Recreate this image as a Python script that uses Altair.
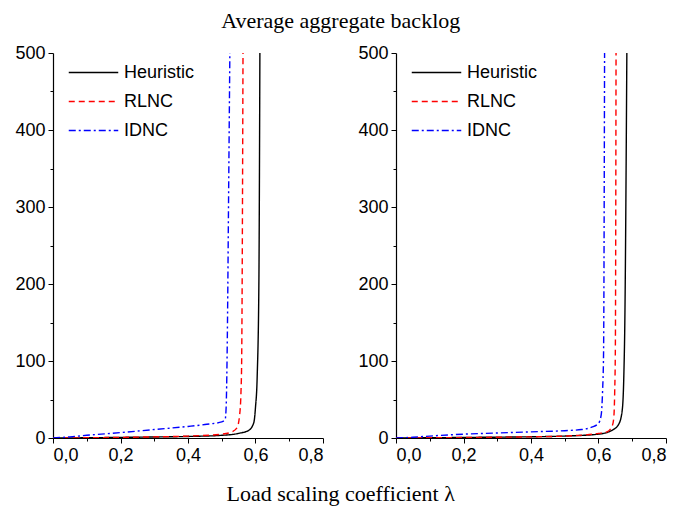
import altair as alt
import pandas as pd

series = ["Heuristic", "RLNC", "IDNC"]
colors = ["#000000", "#ff0000", "#0000ff"]
dashes = [[1, 0], [6, 4], [7, 3, 2, 3]]

x_major = [0, 0.2, 0.4, 0.6, 0.8]
x_minor = [0.1, 0.3, 0.5, 0.7]
y_major = [0, 100, 200, 300, 400, 500]
y_minor = [50, 150, 250, 350, 450]

# Left panel
l_heur_x = [0.0, 0.1, 0.2, 0.3, 0.4, 0.5, 0.55, 0.58, 0.595, 0.600, 0.605, 0.610, 0.613]
l_heur_y = [0.0, 0.3, 0.8, 1.3, 2.0, 3.5, 6.0, 10.0, 20.0, 40.0, 80.0, 200.0, 500.0]
l_rlnc_x = [0.0, 0.1, 0.2, 0.3, 0.4, 0.5, 0.53, 0.545, 0.553, 0.557, 0.559, 0.563]
l_rlnc_y = [0.0, 0.3, 0.8, 1.5, 2.5, 5.0, 8.0, 13.0, 30.0, 60.0, 100.0, 500.0]
l_idnc_x = [0.0, 0.05, 0.1, 0.2, 0.3, 0.4, 0.45, 0.5, 0.51, 0.513, 0.515, 0.517, 0.52, 0.524]
l_idnc_y = [0.0, 1.5, 3.5, 7.0, 11.0, 15.0, 17.5, 21.0, 24.0, 40.0, 80.0, 150.0, 300.0, 500.0]

# Right panel
r_heur_x = [0.0, 0.1, 0.2, 0.3, 0.4, 0.5, 0.6, 0.64, 0.66, 0.67, 0.675, 0.678, 0.684]
r_heur_y = [0.0, 0.3, 0.7, 1.1, 1.6, 2.5, 5.0, 10.0, 18.0, 35.0, 80.0, 150.0, 500.0]
r_rlnc_x = [0.0, 0.1, 0.2, 0.3, 0.4, 0.5, 0.56, 0.6, 0.625, 0.64, 0.645, 0.648, 0.65, 0.652]
r_rlnc_y = [0.0, 0.3, 0.6, 1.0, 1.5, 2.5, 4.0, 6.0, 8.0, 15.0, 25.0, 60.0, 120.0, 500.0]
r_idnc_x = [0.0, 0.05, 0.1, 0.2, 0.3, 0.4, 0.5, 0.55, 0.58, 0.6, 0.608, 0.612, 0.615, 0.618]
r_idnc_y = [0.0, 1.0, 2.5, 5.0, 6.5, 8.0, 9.5, 11.0, 14.0, 19.0, 30.0, 60.0, 110.0, 500.0]


def frame(sets):
    rows = []
    for name, xs, ys in sets:
        for i, (x, y) in enumerate(zip(xs, ys)):
            rows.append({"series": name, "x": x, "y": y, "i": i})
    return pd.DataFrame(rows)


left_df = frame([("Heuristic", l_heur_x, l_heur_y), ("RLNC", l_rlnc_x, l_rlnc_y), ("IDNC", l_idnc_x, l_idnc_y)])
right_df = frame([("Heuristic", r_heur_x, r_heur_y), ("RLNC", r_rlnc_x, r_rlnc_y), ("IDNC", r_idnc_x, r_idnc_y)])

label_expr = "replace(format(datum.value, '.1f'), '.', ',')"
xs = alt.Scale(domain=[0, 0.8], nice=False)
ys = alt.Scale(domain=[0, 500], nice=False)


def panel(df):
    lines = alt.Chart(df).mark_line(strokeWidth=1.4, clip=True, interpolate="monotone").encode(
        x=alt.X("x:Q", scale=xs,
                axis=alt.Axis(title=None, values=x_major, labelExpr=label_expr, orient="bottom")),
        y=alt.Y("y:Q", scale=ys,
                axis=alt.Axis(title=None, values=y_major, orient="left")),
        color=alt.Color("series:N", scale=alt.Scale(domain=series, range=colors),
                        legend=alt.Legend(title=None, orient="none", legendX=15, legendY=5,
                                          symbolType="stroke", symbolSize=2450,
                                          symbolStrokeWidth=1.4, clipHeight=29,
                                          labelFontSize=18, labelFont="Liberation Sans",
                                          labelColor="black",
                                          labelOffset=5, rowPadding=0)),
        strokeDash=alt.StrokeDash("series:N", scale=alt.Scale(domain=series, range=dashes), legend=None),
        order="i:Q",
    )
    minor = alt.Chart(df).mark_line(opacity=0).encode(
        x=alt.X("x:Q", scale=xs,
                axis=alt.Axis(title=None, values=x_minor, labels=False, domain=False,
                              tickSize=3, orient="bottom")),
        y=alt.Y("y:Q", scale=ys,
                axis=alt.Axis(title=None, values=y_minor, labels=False, domain=False,
                              tickSize=3, orient="left")),
    )
    return alt.layer(lines, minor).resolve_axis(x="independent", y="independent").properties(
        width=270, height=385)


chart = alt.vconcat(
    alt.hconcat(panel(left_df), panel(right_df), spacing=33,
                title=alt.TitleParams("Average aggregate backlog", font="Liberation Serif",
                                      fontSize=22, fontWeight="normal", anchor="middle", offset=11,
                                      color="black")
                ).resolve_scale(color="independent", strokeDash="independent"),
    title=alt.TitleParams("Load scaling coefficient λ", orient="bottom", font="Liberation Serif",
                          fontSize=22, fontWeight="normal", anchor="middle", offset=20,
                          color="black"),
).properties(padding={"left": 6, "top": 2, "right": 5, "bottom": 5}).configure_view(
    stroke=None
).configure_axis(
    labelFont="Liberation Sans", labelFontSize=18, labelColor="black",
    domainColor="black", tickColor="black", domainWidth=1.2, tickSize=5, grid=False,
    labelPadding=3,
)

chart.save("out.html", embed_options={"renderer": "svg", "actions": False})
